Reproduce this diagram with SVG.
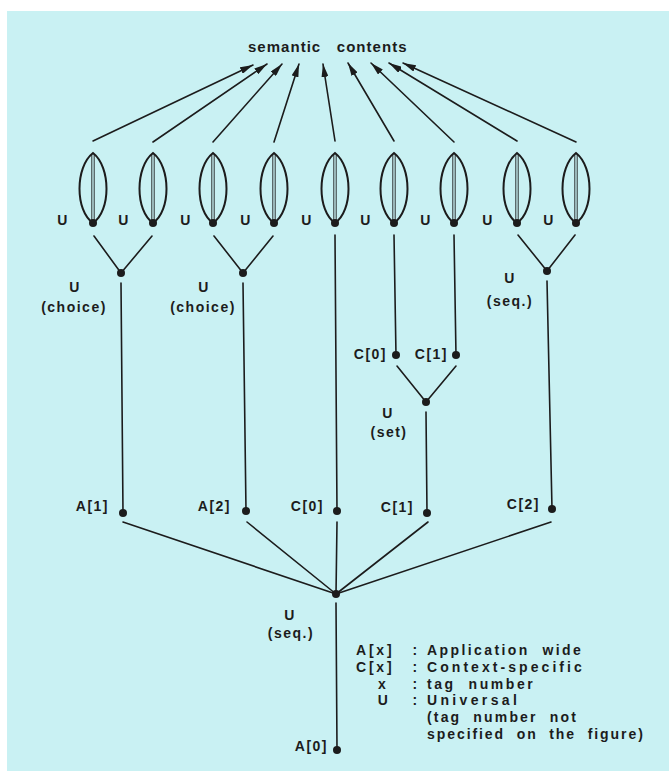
<svg xmlns="http://www.w3.org/2000/svg" width="669" height="776" viewBox="0 0 669 776">
<defs>
<style>
.bg{fill:#c9f1f3}
.ln{stroke:#1c1c1c;stroke-width:1.6;fill:none;stroke-linecap:round}
.lens{stroke:#1c1c1c;stroke-width:2;fill:none}
.inner{stroke:#1c1c1c;stroke-width:0.9}
.dot{fill:#1c1c1c}
text{font-family:"Liberation Sans",Arial,sans-serif;font-weight:bold;font-size:14px;fill:#1c1c1c;letter-spacing:1.5px}
.c{text-anchor:middle}
.e{text-anchor:end}
.lg text{letter-spacing:2.2px;white-space:pre}
</style>
<marker id="ah" viewBox="0 0 13 7" refX="13" refY="3.5" markerWidth="13" markerHeight="7" markerUnits="userSpaceOnUse" orient="auto">
<path d="M0,0 L13,3.5 L0,7 z" fill="#1c1c1c"/>
</marker>
<g id="lensShape">
<path class="lens" d="M0,0 C-18,14 -18,58 0,70 C18,58 18,14 0,0 Z"/>
<line class="inner" x1="-1.2" y1="1" x2="-1.2" y2="69"/>
<line class="inner" x1="1.2" y1="1" x2="1.2" y2="69"/>
<circle class="dot" cx="0" cy="70" r="4"/>
</g>
</defs>
<rect x="0" y="0" width="669" height="776" fill="#ffffff"/>
<rect class="bg" x="7" y="11" width="662" height="760"/>

<g id="title"><text x="248" y="52" style="font-size:15px;white-space:pre" xml:space="preserve" textLength="160" lengthAdjust="spacing">semantic   contents</text></g>

<g id="connectors">
<line class="ln" x1="93" y1="141" x2="253" y2="65" marker-end="url(#ah)"/>
<line class="ln" x1="153" y1="142" x2="267" y2="64" marker-end="url(#ah)"/>
<line class="ln" x1="213" y1="142" x2="282" y2="64" marker-end="url(#ah)"/>
<line class="ln" x1="274" y1="142" x2="299" y2="64" marker-end="url(#ah)"/>
<line class="ln" x1="335" y1="141" x2="323" y2="64" marker-end="url(#ah)"/>
<line class="ln" x1="394" y1="141" x2="348" y2="63" marker-end="url(#ah)"/>
<line class="ln" x1="454" y1="142" x2="371" y2="63" marker-end="url(#ah)"/>
<line class="ln" x1="517" y1="141" x2="389" y2="63" marker-end="url(#ah)"/>
<line class="ln" x1="576" y1="142" x2="403" y2="63" marker-end="url(#ah)"/>

<line class="ln" x1="94" y1="236" x2="121" y2="273"/>
<line class="ln" x1="152" y1="236" x2="121" y2="273"/>
<line class="ln" x1="214" y1="236" x2="243" y2="273"/>
<line class="ln" x1="273" y1="236" x2="243" y2="273"/>
<line class="ln" x1="518" y1="235" x2="547" y2="271"/>
<line class="ln" x1="575" y1="235" x2="547" y2="271"/>

<line class="ln" x1="121" y1="283" x2="123" y2="513"/>
<line class="ln" x1="243" y1="283" x2="246" y2="511"/>
<line class="ln" x1="335" y1="235" x2="337" y2="511"/>
<line class="ln" x1="394" y1="235" x2="396" y2="355"/>
<line class="ln" x1="454" y1="235" x2="456" y2="355"/>
<line class="ln" x1="397" y1="366" x2="426" y2="402"/>
<line class="ln" x1="456" y1="366" x2="426" y2="402"/>
<line class="ln" x1="426" y1="412" x2="427" y2="513"/>
<line class="ln" x1="547" y1="281" x2="552" y2="509"/>

<line class="ln" x1="123" y1="522" x2="336" y2="594"/>
<line class="ln" x1="247" y1="522" x2="336" y2="594"/>
<line class="ln" x1="337" y1="522" x2="336" y2="594"/>
<line class="ln" x1="428" y1="522" x2="336" y2="594"/>
<line class="ln" x1="551" y1="522" x2="336" y2="594"/>
<line class="ln" x1="336" y1="603" x2="337" y2="750"/>
</g>

<g id="leaf1"><use href="#lensShape" x="93" y="153"/><text x="63" y="225" class="c">U</text></g>
<g id="leaf2"><use href="#lensShape" x="153" y="153"/><text x="124" y="225" class="c">U</text></g>
<g id="leaf3"><use href="#lensShape" x="213" y="153"/><text x="186" y="225" class="c">U</text></g>
<g id="leaf4"><use href="#lensShape" x="274" y="153"/><text x="246" y="225" class="c">U</text></g>
<g id="leaf5"><use href="#lensShape" x="335" y="153"/><text x="307" y="225" class="c">U</text></g>
<g id="leaf6"><use href="#lensShape" x="394" y="153"/><text x="366" y="225" class="c">U</text></g>
<g id="leaf7"><use href="#lensShape" x="454" y="153"/><text x="426" y="225" class="c">U</text></g>
<g id="leaf8"><use href="#lensShape" x="517" y="153"/><text x="488" y="225" class="c">U</text></g>
<g id="leaf9"><use href="#lensShape" x="576" y="153"/><text x="549" y="225" class="c">U</text></g>

<g id="choice1"><circle class="dot" cx="121" cy="273" r="4"/><text x="75" y="292" class="c">U</text><text x="74" y="312" class="c">(choice)</text></g>
<g id="choice2"><circle class="dot" cx="243" cy="273" r="4"/><text x="204" y="292" class="c">U</text><text x="203" y="312" class="c">(choice)</text></g>
<g id="seq2"><circle class="dot" cx="547" cy="271" r="4"/><text x="510" y="283" class="c">U</text><text x="510" y="306" class="c">(seq.)</text></g>
<g id="c0top"><circle class="dot" cx="396" cy="355" r="4"/><text x="387" y="359" class="e">C[0]</text></g>
<g id="c1top"><circle class="dot" cx="456" cy="355" r="4"/><text x="448" y="359" class="e">C[1]</text></g>
<g id="set"><circle class="dot" cx="426" cy="402" r="4"/><text x="388" y="418" class="c">U</text><text x="389" y="437" class="c">(set)</text></g>

<g id="a1"><circle class="dot" cx="123" cy="513" r="4"/><text x="109" y="511" class="e">A[1]</text></g>
<g id="a2"><circle class="dot" cx="246" cy="511" r="4"/><text x="231" y="511" class="e">A[2]</text></g>
<g id="c0"><circle class="dot" cx="337" cy="511" r="4"/><text x="324" y="511" class="e">C[0]</text></g>
<g id="c1"><circle class="dot" cx="427" cy="513" r="4"/><text x="414" y="512" class="e">C[1]</text></g>
<g id="c2"><circle class="dot" cx="552" cy="509" r="4"/><text x="540" y="509" class="e">C[2]</text></g>

<g id="hub"><circle class="dot" cx="336" cy="594" r="4"/><text x="290" y="620" class="c">U</text><text x="291" y="638" class="c">(seq.)</text></g>
<g id="a0"><circle class="dot" cx="337" cy="750" r="4"/><text x="328" y="751" class="e">A[0]</text></g>

<g id="legend" class="lg">
<text x="356" y="655" style="letter-spacing:2.8px">A[x]</text><text x="416" y="655" class="c">:</text><text x="427" y="655" xml:space="preserve" textLength="156" lengthAdjust="spacing">Application  wide</text>
<text x="356" y="672" style="letter-spacing:2.8px">C[x]</text><text x="416" y="672" class="c">:</text><text x="427" y="672" textLength="157" lengthAdjust="spacing">Context-specific</text>
<text x="383" y="689" class="c">x</text><text x="416" y="689" class="c">:</text><text x="427" y="689" xml:space="preserve" textLength="108" lengthAdjust="spacing">tag  number</text>
<text x="384" y="705" class="c">U</text><text x="416" y="705" class="c">:</text><text x="427" y="705" textLength="92" lengthAdjust="spacing">Universal</text>
<text x="427" y="722" xml:space="preserve" textLength="151" lengthAdjust="spacing">(tag  number  not</text>
<text x="427" y="739" xml:space="preserve" textLength="218" lengthAdjust="spacing">specified  on  the  figure)</text>
</g>
</svg>
